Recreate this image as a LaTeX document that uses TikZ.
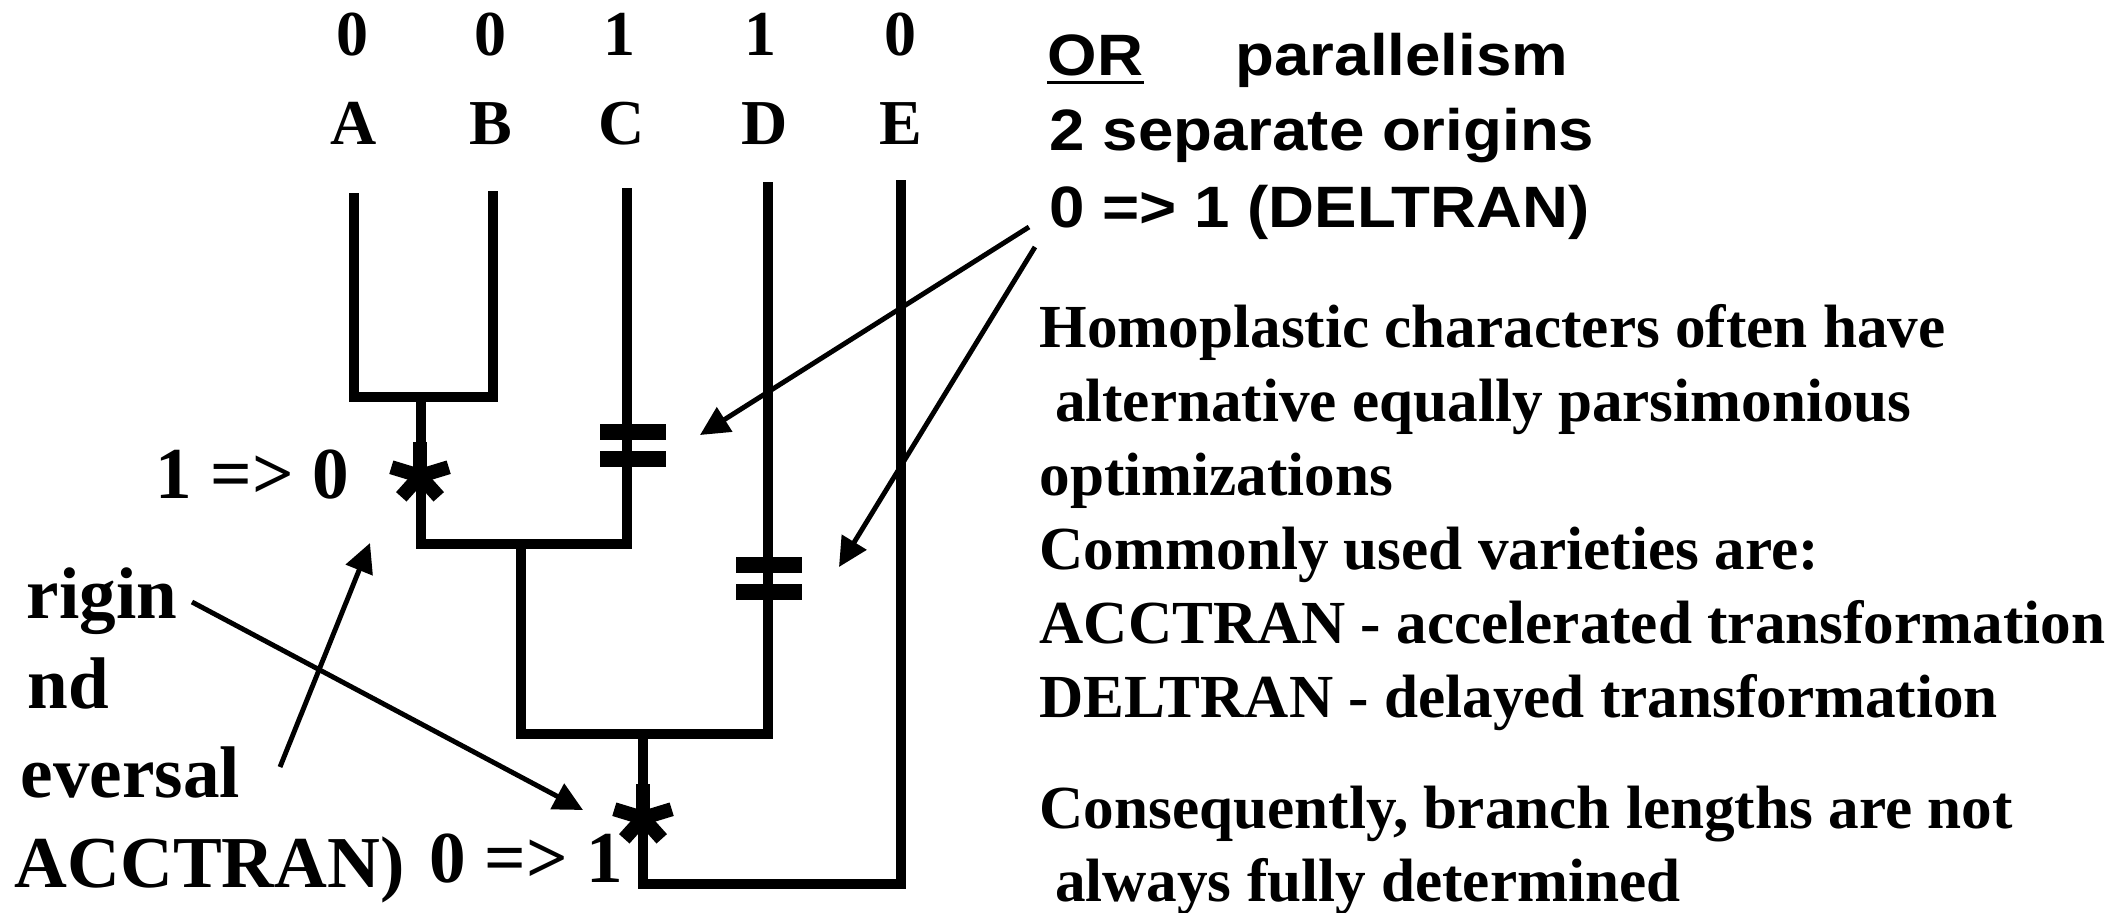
\documentclass[tikz,border=0pt]{standalone}
\usepackage{fontspec}
\setmainfont{Liberation Serif}
\newfontfamily\arialx{Liberation Sans}[FakeStretch=1.09]
\usetikzlibrary{arrows.meta}

\begin{document}
\begin{tikzpicture}[x=0.01cm,y=-0.01cm,
  br/.style={line width=2.85pt},
  bar/.style={line width=4.6pt},
  ar/.style={-{Triangle[length=8.3pt,width=8pt]},line width=1.4pt},
  lbl/.style={inner sep=0pt,anchor=base,font=\bfseries\fontsize{18.2}{20}\selectfont},
  txt/.style={inner sep=0pt,anchor=base west,font=\bfseries\fontsize{17.4}{21}\selectfont},
  big/.style={inner sep=0pt,anchor=base west,font=\bfseries\fontsize{20.8}{24}\selectfont},
  sans/.style={inner sep=0pt,anchor=base west,font=\arialx\bfseries\fontsize{16.6}{20}\selectfont},
  astk/.pic={\foreach \a/\r in {-90/34,-17/30,197/30,48/28,132/28}
               \draw[line width=4pt] (0,0) -- (\a:\r);},
]
\useasboundingbox (0,0) rectangle (2127,912);

% taxa and states
\node[lbl] (sA) at (352,55) {0};
\node[lbl] (sB) at (490,55) {0};
\node[lbl] (sC) at (619,55) {1};
\node[lbl] (sD) at (760,55) {1};
\node[lbl] (sE) at (900,55) {0};
\node[lbl] (nA) at (354,144) {A};
\node[lbl] (nB) at (491,144) {B};
\node[lbl] (nC) at (622,144) {C};
\node[lbl] (nD) at (765,144) {D};
\node[lbl] (nE) at (901,144) {E};

% tree
\coordinate (A) at (354,193);
\coordinate (B) at (493,191);
\coordinate (C) at (627,188);
\coordinate (D) at (768,182);
\coordinate (E) at (901,180);
\coordinate (ab) at (421,397);
\coordinate (abc) at (521,544);
\coordinate (abcd) at (643,734);
\coordinate (root) at (643,884);
\draw[br] (A) |- (ab) -| (B);
\draw[br] (ab) |- (abc) -| (C);
\draw[br] (abc) |- (abcd) -| (D);
\draw[br] (abcd) -- (root) -| (E);

% character changes
\draw[bar] (600,432) -- (666,432) (600,459) -- (666,459);
\draw[bar] (736,565) -- (802,565) (736,592) -- (802,592);
\pic (s1) at (420,476) {astk};
\pic (s2) at (643,818) {astk};
\node[big] (loss) at (155,498) {1 => 0};
\node[big] (gain) at (429,882) {0 => 1};

% left labels
\node[big] (o1) at (26,618) {rigin};
\node[big] (o2) at (27,708) {nd};
\node[big] (o3) at (20,797) {eversal};
\node[big] (o4) at (14,887) {ACCTRAN)};

% deltran labels
\node[sans] (or) at (1047,75) {OR};
\draw[line width=1pt] ([yshift=-2.1pt]or.base west) -- ([yshift=-2.1pt]or.base east);
\node[sans] (par) at (1235,75) {parallelism};
\node[sans] (sep) at (1049,150) {2 separate origins};
\node[sans] (delt) at (1049,227) {0 => 1 (DELTRAN)};

% notes
\node[txt] (h1) at (1039,347) {Homoplastic characters often have};
\node[txt] (h2) at (1039,421) {\ alternative equally parsimonious};
\node[txt] (h3) at (1039,495) {optimizations};
\node[txt] (h4) at (1039,569) {Commonly used varieties are:};
\node[txt] (h5) at (1039,643) {ACCTRAN - accelerated transformation};
\node[txt] (h6) at (1039,717) {DELTRAN - delayed transformation};
\node[txt] (c1) at (1039,828) {Consequently, branch lengths are not};
\node[txt] (c2) at (1039,901) {\ always fully determined};

% arrows
\coordinate (dtail1) at (1029,227);
\coordinate (dtail2) at (1035,247);
\coordinate (cbar) at (700,435);
\coordinate (dbar) at (839,567);
\coordinate (otail) at (192,602);
\coordinate (rtail) at (280,767);
\coordinate (rootstar) at (583,810);
\coordinate (abstar) at (370,543);
\draw[ar] (dtail1) -- (cbar);
\draw[ar] (dtail2) -- (dbar);
\draw[ar] (otail) -- (rootstar);
\draw[ar] (rtail) -- (abstar);
\end{tikzpicture}
\end{document}
